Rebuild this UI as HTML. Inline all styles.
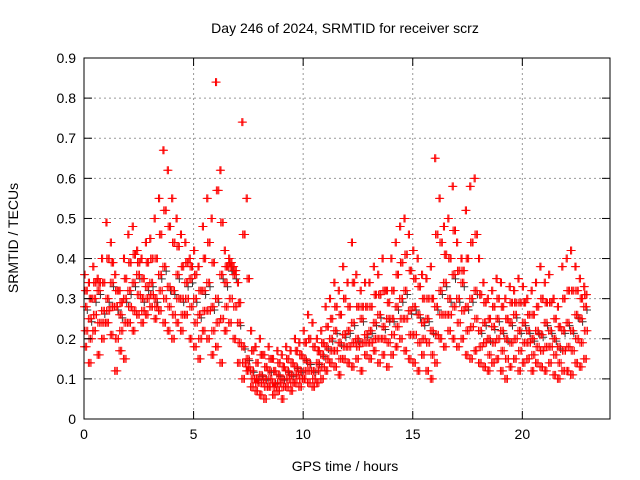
<!DOCTYPE html>
<html><head><meta charset="utf-8"><style>
body{margin:0;background:#fff}
svg{display:block;font-family:"Liberation Sans",sans-serif}
</style></head><body>
<svg id="chart" width="640" height="480">
<rect width="640" height="480" fill="#fff"/>
<text x="345" y="33" text-anchor="middle" font-size="14">Day 246 of 2024, SRMTID for receiver scrz</text>
<text x="345" y="471" text-anchor="middle" font-size="14">GPS time / hours</text>
<text transform="translate(18,238) rotate(-90)" text-anchor="middle" font-size="14">SRMTID / TECUs</text>
<g id="grid"></g><g id="marks"></g>
<rect x="84" y="58" width="526" height="361" fill="none" stroke="#000"/>
<g id="ticks"></g>
</svg>
<script>
const xTicks=[0,5,10,15,20];
const yTicks=[0,0.1,0.2,0.3,0.4,0.5,0.6,0.7,0.8,0.9];
const yTickLabels=["0","0.1","0.2","0.3","0.4","0.5","0.6","0.7","0.8","0.9"];
const lo=[18,14,22,16,20,24,21,12,17,15,24,22,26,24,26,28,25,27,24,22,20,24,22,26,20,18,15,22,20,16,18,14,22,24,20,14,10,12,8,7,6,5,8,6,7,5,8,7,9,8,10,9,8,9,10,12,14,13,11,15,14,13,15,12,16,15,17,14,16,13,16,18,20,17,15,14,12,16,12,10,14,20,18,22,20,18,20,16,15,17,14,13,12,14,15,12,10,13,15,12,14,15,12,14,13,12,14,11,10,12,12,11,14,13,15];
const q1=[22,20,26,24,24,27,28,20,22,24,28,27,31,27,30,31,28,32,30,28,26,30,26,30,28,24,20,27,27,22,24,25,28,30,28,19,14,13,10,9,9,8,10,8,9,8,10,9,11,10,12,12,10,12,13,15,17,17,15,18,18,19,18,19,19,19,20,20,20,19,21,23,25,25,21,21,19,20,19,16,21,26,26,26,28,24,27,22,23,25,18,19,16,19,20,17,15,19,20,17,19,19,16,18,17,18,18,16,14,17,18,17,20,19,22];
const mid=[28,25,30,32,27,30,34,28,26,30,32,34,36,30,33,34,30,36,38,33,32,36,30,34,35,30,26,32,34,28,30,36,34,38,36,24,18,15,12,10,11,10,12,9,11,10,12,11,13,12,15,14,12,14,16,18,20,22,19,21,22,24,20,25,21,22,24,26,23,25,25,28,30,32,27,28,26,24,25,22,28,32,34,30,36,30,34,28,30,32,22,24,20,23,25,22,20,24,26,22,24,22,20,22,21,24,22,20,18,22,24,22,26,25,28];
const q3=[32,30,34,34,34,40,39,32,29,35,39,41,39,35,39,40,40,46,52,48,44,43,38,39,38,36,32,40,44,39,57,49,38,39,37,29,46,35,17,14,16,13,15,12,14,13,15,14,17,16,19,20,18,17,19,23,25,28,26,30,28,34,28,28,28,28,31,31,32,29,32,36,39,41,37,35,33,30,30,30,46,44,41,40,47,37,37,40,44,46,31,29,25,28,30,28,25,29,29,29,29,26,26,28,30,29,29,25,23,30,32,32,32,30,31];
const hi=[36,34,38,35,40,49,44,36,32,40,46,48,42,40,44,45,50,55,67,62,55,50,46,44,40,42,38,48,55,50,84,62,42,40,38,34,74,55,22,18,20,16,18,15,17,16,18,17,20,19,22,26,24,20,22,28,30,34,32,38,34,44,36,32,34,34,38,36,40,32,40,44,48,50,46,42,40,36,35,38,65,55,48,50,58,44,40,52,58,60,40,34,30,32,35,34,30,33,32,35,33,30,32,34,38,34,36,30,28,38,40,42,38,35,33];
const X0=84,X1=610,Y0=419,Y1=58;
const xs=t=>X0+t*(X1-X0)/24;
const ys=v=>Y0-v*(Y0-Y1)/0.9;
const NS="http://www.w3.org/2000/svg";
const grid=document.getElementById('grid'),ticks=document.getElementById('ticks'),marks=document.getElementById('marks');
function mk(tag,attrs,parent){const e=document.createElementNS(NS,tag);for(const k in attrs)e.setAttribute(k,attrs[k]);parent.appendChild(e);return e;}
xTicks.forEach(t=>{const x=xs(t);
 if(t>0){const g=mk('line',{x1:x,x2:x,y1:Y1,y2:Y0,stroke:'#999','stroke-dasharray':'2,3'},grid);
 
 }
 mk('line',{x1:x,x2:x,y1:Y0,y2:Y0-8,stroke:'#000'},ticks);
 mk('line',{x1:x,x2:x,y1:Y1,y2:Y1+8,stroke:'#000'},ticks);
 const tx=mk('text',{x:x,y:Y0+20,'text-anchor':'middle','font-size':14},ticks);tx.textContent=t;
 
 
});
yTicks.forEach((v,i)=>{const y=ys(v);
 if(i>0&&i<yTicks.length-1){const g=mk('line',{x1:X0,x2:X1,y1:y,y2:y,stroke:'#999','stroke-dasharray':'2,3'},grid);
 
 }
 mk('line',{x1:X0,x2:X0+8,y1:y,y2:y,stroke:'#000'},ticks);
 mk('line',{x1:X1,x2:X1-8,y1:y,y2:y,stroke:'#000'},ticks);
 const tx=mk('text',{x:X0-8,y:y+5,'text-anchor':'end','font-size':14},ticks);tx.textContent=yTickLabels[i];
 
 
});
function cross(t,v,col){const x=xs(t),y=ys(v);
 const p=mk('path',{d:`M${x-4},${y}h8M${x},${y-4}v8`,stroke:col,'stroke-width':1,fill:'none'},marks);
 
 
}
mid.forEach((v,i)=>cross(i*0.2+0.15,v/100*0.97,'#333'));
[[lo,0],[mid,0],[hi,0],[q1,0.1],[q3,0.1],[mid,0.07],[q1,0.03],[q3,0.15],[lo,0.12],[hi,0.05],[q1,0.17],[q3,0.04],[mid,0.13],[lo,0.06]].forEach(([arr,off])=>{
 arr.forEach((v,i)=>cross(i*0.2+off,v/100,'#f00'));
});
</script>
</body></html>
